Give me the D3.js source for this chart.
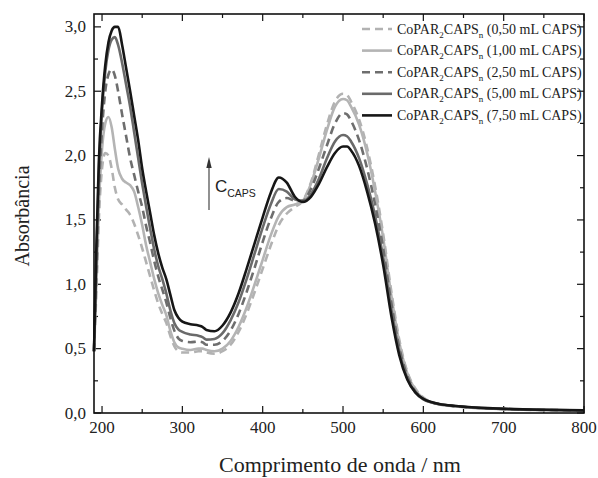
<!DOCTYPE html>
<html><head><meta charset="utf-8">
<script src="https://cdn.jsdelivr.net/npm/d3@7"></script>
<style>body{margin:0;background:#fff}svg{display:block}text{white-space:pre}</style>
</head><body>
<script>
const wavelengths = [190,193,196,200,204,208,212,216,220,225,230,235,240,245,250,255,260,265,270,275,280,285,290,295,300,310,320,325,330,340,350,360,370,380,390,400,410,420,430,440,450,460,470,480,490,500,505,510,520,530,540,550,560,570,580,590,600,610,620,640,660,680,700,750,800];
const seriesNames = ["(0,50 mL CAPS)","(1,00 mL CAPS)","(2,50 mL CAPS)","(5,00 mL CAPS)","(7,50 mL CAPS)"];
const abs050 = [0.48,0.95,1.5,1.90,2.02,2.0,1.90,1.75,1.66,1.62,1.58,1.54,1.47,1.38,1.28,1.17,1.06,0.95,0.85,0.77,0.70,0.60,0.52,0.48,0.47,0.47,0.48,0.48,0.47,0.46,0.48,0.53,0.63,0.77,0.94,1.12,1.30,1.46,1.55,1.60,1.65,1.79,2.01,2.24,2.42,2.48,2.47,2.42,2.28,2.06,1.76,1.39,0.95,0.57,0.32,0.19,0.12,0.085,0.068,0.052,0.042,0.035,0.03,0.022,0.017];
const abs100 = [0.48,1.0,1.6,2.05,2.25,2.30,2.22,2.05,1.90,1.82,1.79,1.77,1.72,1.60,1.46,1.30,1.17,1.04,0.93,0.84,0.76,0.64,0.55,0.51,0.50,0.49,0.50,0.50,0.49,0.48,0.50,0.56,0.67,0.82,1.00,1.19,1.38,1.53,1.60,1.62,1.65,1.78,1.98,2.20,2.38,2.44,2.43,2.38,2.24,2.02,1.72,1.36,0.92,0.55,0.31,0.18,0.115,0.083,0.067,0.052,0.042,0.035,0.03,0.022,0.017];
const abs250 = [0.48,1.1,1.7,2.2,2.5,2.63,2.67,2.62,2.50,2.32,2.15,1.98,1.85,1.72,1.60,1.45,1.32,1.18,1.06,0.96,0.86,0.74,0.64,0.58,0.56,0.55,0.555,0.55,0.53,0.53,0.56,0.64,0.77,0.94,1.13,1.33,1.51,1.64,1.67,1.65,1.65,1.74,1.90,2.08,2.25,2.33,2.32,2.27,2.12,1.90,1.62,1.28,0.86,0.51,0.29,0.17,0.11,0.083,0.068,0.053,0.043,0.036,0.031,0.024,0.019];
const abs500 = [0.48,1.2,1.85,2.35,2.65,2.82,2.90,2.92,2.86,2.72,2.55,2.38,2.18,1.98,1.78,1.60,1.43,1.27,1.14,1.04,0.93,0.80,0.70,0.65,0.63,0.61,0.60,0.59,0.57,0.575,0.62,0.72,0.86,1.04,1.24,1.44,1.62,1.74,1.72,1.66,1.645,1.70,1.82,1.98,2.11,2.16,2.15,2.11,1.98,1.78,1.53,1.21,0.81,0.48,0.27,0.16,0.105,0.082,0.068,0.054,0.044,0.037,0.032,0.025,0.02];
const abs750 = [0.48,1.3,1.95,2.40,2.70,2.88,2.97,3.0,3.0,2.86,2.68,2.50,2.31,2.12,1.90,1.72,1.55,1.38,1.24,1.13,1.04,0.92,0.80,0.74,0.71,0.69,0.68,0.67,0.645,0.635,0.68,0.78,0.93,1.12,1.32,1.52,1.71,1.83,1.79,1.68,1.64,1.68,1.78,1.91,2.02,2.07,2.07,2.04,1.92,1.72,1.47,1.15,0.76,0.45,0.26,0.16,0.11,0.085,0.07,0.055,0.045,0.038,0.033,0.025,0.02];
const xTicks = [200,300,400,500,600,700,800];
const yTicks = [0,0.5,1.0,1.5,2.0,2.5,3.0];

const allSeries = [abs050, abs100, abs250, abs500, abs750];
const styles = [
  {color:"#b2b2b2", dash:"8,5"},
  {color:"#b4b4b4", dash:null},
  {color:"#6e6e6e", dash:"8,5"},
  {color:"#6a6a6a", dash:null},
  {color:"#161616", dash:null}
];

const W = 598, H = 478;
const m = {l:94, r:584, t:14, b:413};
const svg = d3.select("body").append("svg").attr("width",W).attr("height",H);
const x = d3.scaleLinear().domain([190,800]).range([m.l,m.r]);
const y = d3.scaleLinear().domain([0,3.1]).range([m.b,m.t]);

const serif = "'Liberation Serif','Times New Roman',serif";
const sans = "'Liberation Sans',Arial,sans-serif";

// ticks (inward, all four sides)
const g = svg.append("g");
const minorX = d3.range(200,801,50);
const minorY = d3.range(0,3.01,0.25);
minorX.forEach(v=>{
  const major = v%100===0; const L = major?7:4;
  g.append("line").attr("x1",x(v)).attr("x2",x(v)).attr("y1",m.b).attr("y2",m.b-L).attr("stroke","#111").attr("stroke-width",1.2);
  g.append("line").attr("x1",x(v)).attr("x2",x(v)).attr("y1",m.t).attr("y2",m.t+L).attr("stroke","#111").attr("stroke-width",1.2);
});
minorY.forEach(v=>{
  const major = Math.abs(v*2-Math.round(v*2))<1e-6; const L = major?7:4;
  g.append("line").attr("y1",y(v)).attr("y2",y(v)).attr("x1",m.l).attr("x2",m.l+L).attr("stroke","#111").attr("stroke-width",1.2);
  g.append("line").attr("y1",y(v)).attr("y2",y(v)).attr("x1",m.r).attr("x2",m.r-L).attr("stroke","#111").attr("stroke-width",1.2);
});

// lines
const line = d3.line().x((d,i)=>x(wavelengths[i])).y(d=>y(d)).curve(d3.curveMonotoneX);
allSeries.forEach((s,i)=>{
  svg.append("path").attr("d",line(s)).attr("fill","none")
    .attr("stroke",styles[i].color).attr("stroke-width",2.6)
    .attr("stroke-dasharray",styles[i].dash).attr("stroke-linejoin","round");
});

// frame
svg.append("rect").attr("x",m.l).attr("y",m.t).attr("width",m.r-m.l).attr("height",m.b-m.t)
  .attr("fill","none").attr("stroke","#111").attr("stroke-width",1.6);

// tick labels
xTicks.forEach(v=>{
  svg.append("text").attr("x",x(v)).attr("y",433).attr("text-anchor","middle")
    .attr("font-family",serif).attr("font-size",17).attr("fill","#222").text(v);
});
yTicks.forEach(v=>{
  svg.append("text").attr("x",86).attr("y",y(v)+5.5).attr("text-anchor","end")
    .attr("font-family",serif).attr("font-size",17).attr("fill","#222").text(v.toFixed(1).replace(".",","));
});

// axis titles
svg.append("text").attr("x",340).attr("y",472).attr("text-anchor","middle")
  .attr("font-family",serif).attr("font-size",22).attr("fill","#222").text("Comprimento de onda / nm");
svg.append("text").attr("transform","translate(29,216) rotate(-90)").attr("text-anchor","middle")
  .attr("font-family",serif).attr("font-size",20).attr("fill","#222").text("Absorbância");

// legend
seriesNames.forEach((nm,i)=>{
  const cy = 29 + i*21.6;
  svg.append("line").attr("x1",362).attr("x2",392).attr("y1",cy).attr("y2",cy)
    .attr("stroke",styles[i].color).attr("stroke-width",2.6).attr("stroke-dasharray",styles[i].dash);
  const t = svg.append("text").attr("x",397).attr("y",cy+4.5).attr("font-family",serif).attr("font-size",14).attr("fill","#222");
  t.append("tspan").text("CoPAR");
  t.append("tspan").attr("font-size",9).attr("dy",4).text("2");
  t.append("tspan").attr("dy",-4).text("CAPS");
  t.append("tspan").attr("font-size",9).attr("dy",4).text("n");
  t.append("tspan").attr("dy",-4).text(" " + nm);
});

// arrow annotation
svg.append("line").attr("x1",209).attr("x2",209).attr("y1",210).attr("y2",165).attr("stroke","#555").attr("stroke-width",1.3);
svg.append("path").attr("d","M209,157 L206.3,168 L211.7,168 Z").attr("fill","#333");
const c = svg.append("text").attr("x",215).attr("y",192).attr("font-family",sans).attr("font-size",17).attr("fill","#222");
c.append("tspan").text("C");
c.append("tspan").attr("font-size",10.5).attr("dy",5).text("CAPS");
</script>
</body></html>
